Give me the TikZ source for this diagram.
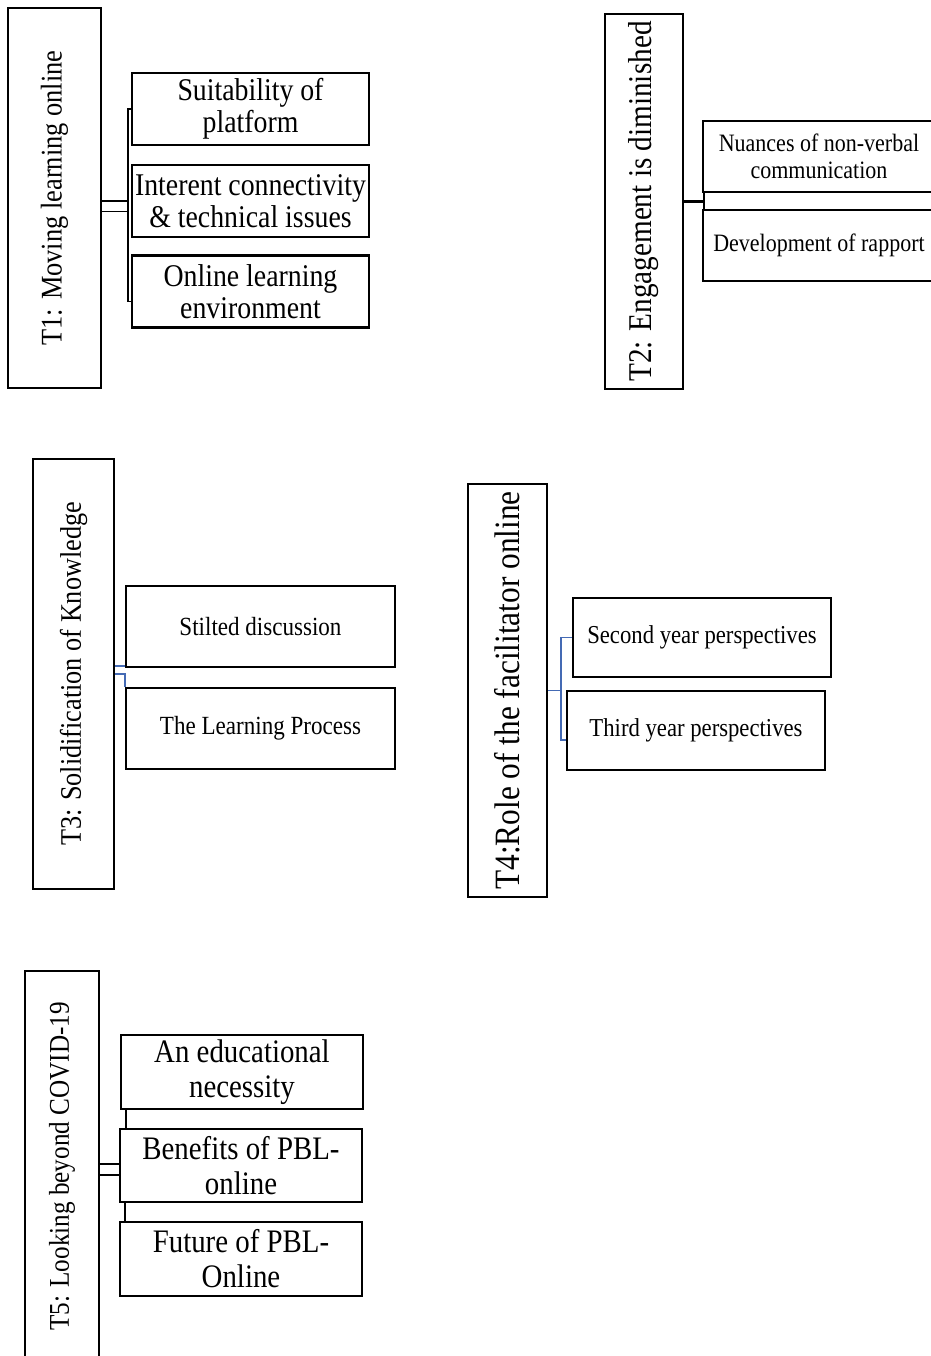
\documentclass[tikz,border=0pt]{standalone}
\usepackage{fontspec}
\setmainfont[FakeStretch=0.88]{Liberation Serif}
\usetikzlibrary{calc}

\begin{document}
\begin{tikzpicture}[x=0.5pt,y=-0.5pt,
    theme/.style={draw, line width=1.1pt, rotate=90, inner sep=0pt, align=center},
    sub/.style={draw, line width=1.1pt, inner sep=1pt, align=center},
    link/.style={line width=0.9pt},
    dbl/.style={line width=0.8pt, double, double distance=4.5pt},
    bluelink/.style={line width=0.9pt, color=linkblue}]
    \definecolor{linkblue}{RGB}{68,106,180}
    \useasboundingbox (0,0) rectangle (931,1356);
    % T1
    \node[theme, minimum width=190pt, minimum height=46.5pt, font=\fontsize{15}{18}\selectfont] (t1) at (54.5,198) {T1: Moving learning online};
    \node[sub, minimum width=118.5pt, minimum height=36pt, font=\fontsize{15.8}{16}\selectfont] (s11) at (250.5,109) {Suitability of\\platform};
    \node[sub, minimum width=118.5pt, minimum height=36pt, font=\fontsize{15.8}{16}\selectfont] (s12) at (250.5,201) {Interent connectivity\\\& technical issues};
    \node[sub, minimum width=118.5pt, minimum height=36pt, font=\fontsize{15.8}{16}\selectfont] (s13) at (250.5,291.5) {Online learning\\environment};
    \draw[dbl] ([yshift=-4pt]t1.south) -- ([yshift=-4pt]t1.south -| 129,0);
    \draw[link] (s11.west) -- ++(-3,0) |- ([yshift=-5pt]s13.west);
    % T2
    \node[theme, minimum width=187.5pt, minimum height=39pt, font=\fontsize{16.6}{20}\selectfont] (t2) at (644,201.5) {T2: Engagement is diminished};
    \node[sub, minimum width=116pt, minimum height=35.5pt, font=\fontsize{12.5}{13.5}\selectfont] (s21) at (819,156.5) {Nuances of non-verbal\\communication};
    \node[sub, minimum width=116pt, minimum height=35.5pt, font=\fontsize{12.5}{13.5}\selectfont] (s22) at (819,245.5) {Development of rapport};
    \draw[link, line width=1.6pt] (t2.south) -- ([xshift=1pt]s21.south west |- t2.south);
    \draw[link] ([xshift=1pt]s21.south west) -- ([xshift=1pt]s22.north west);
    % T3
    \node[theme, minimum width=215pt, minimum height=40.5pt, font=\fontsize{14.9}{18}\selectfont] (t3) at (73.5,674) {T3: Solidification of Knowledge};
    \node[sub, minimum width=134.5pt, minimum height=40.5pt, font=\fontsize{13.1}{15}\selectfont] (s31) at (260.5,626.5) {Stilted discussion};
    \node[sub, minimum width=134.5pt, minimum height=40.5pt, font=\fontsize{13.1}{15}\selectfont] (s32) at (260.5,728.5) {The Learning Process};
    \draw[bluelink] ([yshift=1pt]s31.south west) -- ([yshift=1pt]s31.south west -| t3.south);
    \draw[bluelink] (t3.south) -| (s32.north west);
    % T4
    \node[theme, minimum width=206.5pt, minimum height=39.5pt, font=\fontsize{17.8}{20}\selectfont] (t4) at (507.5,690.5) {T4:Role of the facilitator online};
    \node[sub, minimum width=129pt, minimum height=39.5pt, font=\fontsize{12.9}{15}\selectfont] (s41) at (702,637.5) {Second year perspectives};
    \node[sub, minimum width=129pt, minimum height=39.5pt, font=\fontsize{12.9}{15}\selectfont] (s42) at (696,730.5) {Third year perspectives};
    \coordinate (j4) at (561,690.5);
    \draw[bluelink] (t4.south) -- (j4);
    \draw[bluelink] (s41.west) -| ([yshift=-4.75pt]s42.west -| j4) -- ([yshift=-4.75pt]s42.west);
    % T5
    \node[theme, minimum width=195.5pt, minimum height=37pt, font=\fontsize{14.3}{18}\selectfont] (t5) at (62,1166.5) {T5: Looking beyond COVID-19};
    \node[sub, minimum width=121pt, minimum height=37pt, font=\fontsize{16.4}{17.5}\selectfont] (s51) at (242,1072) {An educational\\necessity};
    \node[sub, minimum width=121pt, minimum height=36.5pt, font=\fontsize{16.4}{17.5}\selectfont] (s52) at (241,1165.5) {Benefits of PBL-\\online};
    \node[sub, minimum width=121pt, minimum height=37pt, font=\fontsize{16.4}{17.5}\selectfont] (s53) at (241,1259) {Future of PBL-\\Online};
    \draw[dbl] ([yshift=-1.5pt]t5.south) -- ([yshift=-1.5pt]t5.south -| s52.west);
    \draw[link] ([xshift=3pt]s51.south west) -- ([xshift=3pt]s51.south west |- s52.north);
    \draw[link] ([xshift=3pt]s52.south west) -- ([xshift=3pt]s53.north west);
\end{tikzpicture}
\end{document}
